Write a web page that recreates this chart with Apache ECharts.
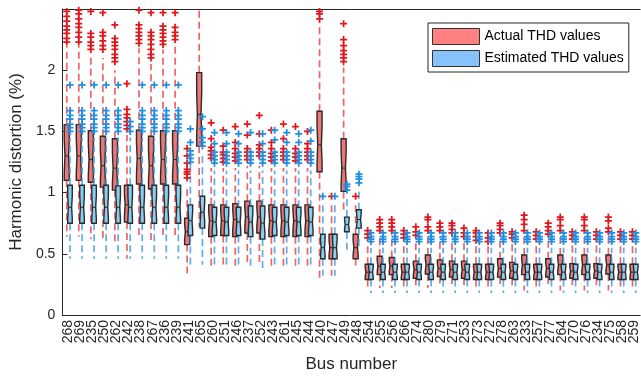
<!DOCTYPE html>
<html>
<head>
<meta charset="utf-8">
<title>THD boxplot</title>
<script src="https://cdn.jsdelivr.net/npm/echarts@6/dist/echarts.min.js"></script>
<style>
  html, body { margin: 0; padding: 0; background: #fff; }
  #chart { width: 641px; height: 378px; }
</style>
</head>
<body>
<div id="chart"></div>
<script>
// bus numbers along the x axis
var busNumbers = ['268', '269', '235', '250', '262', '242', '238', '267', '236', '239',
  '241', '265', '260', '251', '246', '237', '252', '243', '261', '245',
  '244', '240', '247', '249', '248', '254', '255', '256', '266', '274',
  '280', '279', '271', '253', '273', '272', '278', '263', '233', '257',
  '277', '264', '270', '276', '234', '275', '258', '259'];

var yTicks = [0, 0.5, 1, 1.5, 2];

// [lower whisker, q1, median, q3, upper whisker]
var actualBox = [
  [0.64, 1.10, 1.30, 1.555, 2.20], [0.64, 1.10, 1.30, 1.555, 2.20], [0.62, 1.085, 1.27, 1.505, 2.12],
  [0.60, 1.045, 1.22, 1.46, 2.10], [0.58, 1.02, 1.20, 1.44, 2.00], [0.46, 0.76, 0.90, 1.06, 1.47],
  [0.62, 1.07, 1.28, 1.51, 2.18], [0.60, 1.03, 1.22, 1.46, 2.05], [0.62, 1.07, 1.27, 1.505, 2.17],
  [0.63, 1.07, 1.27, 1.505, 2.20], [0.34, 0.575, 0.68, 0.79, 1.05], [0.72, 1.38, 1.64, 1.98, 2.60],
  [0.40, 0.64, 0.77, 0.90, 1.20], [0.40, 0.65, 0.77, 0.90, 1.20], [0.40, 0.64, 0.78, 0.91, 1.20],
  [0.40, 0.67, 0.80, 0.93, 1.22], [0.40, 0.67, 0.80, 0.93, 1.22], [0.40, 0.64, 0.77, 0.90, 1.20],
  [0.40, 0.64, 0.77, 0.90, 1.20], [0.40, 0.64, 0.77, 0.90, 1.20], [0.40, 0.64, 0.77, 0.90, 1.20],
  [0.30, 1.17, 1.39, 1.665, 2.40], [0.32, 0.46, 0.55, 0.66, 0.92], [0.85, 1.01, 1.20, 1.44, 2.02],
  [0.38, 0.46, 0.55, 0.66, 0.92], [0.20, 0.29, 0.35, 0.415, 0.58], [0.22, 0.33, 0.40, 0.48, 0.66],
  [0.22, 0.33, 0.40, 0.47, 0.66], [0.22, 0.29, 0.35, 0.415, 0.58], [0.22, 0.30, 0.37, 0.44, 0.62],
  [0.22, 0.335, 0.41, 0.49, 0.67], [0.24, 0.315, 0.38, 0.45, 0.64], [0.24, 0.31, 0.37, 0.44, 0.62],
  [0.22, 0.30, 0.37, 0.44, 0.60], [0.22, 0.29, 0.35, 0.415, 0.58], [0.22, 0.29, 0.35, 0.415, 0.57],
  [0.22, 0.31, 0.38, 0.46, 0.64], [0.22, 0.30, 0.36, 0.43, 0.60], [0.20, 0.33, 0.41, 0.49, 0.68],
  [0.22, 0.29, 0.35, 0.415, 0.58], [0.22, 0.31, 0.38, 0.46, 0.64], [0.20, 0.33, 0.41, 0.49, 0.67],
  [0.22, 0.30, 0.36, 0.42, 0.58], [0.20, 0.33, 0.41, 0.49, 0.67], [0.22, 0.30, 0.36, 0.42, 0.58],
  [0.20, 0.335, 0.41, 0.49, 0.66], [0.22, 0.29, 0.35, 0.415, 0.58], [0.22, 0.29, 0.35, 0.415, 0.58]
];

var estimatedBox = [
  [0.46, 0.75, 0.88, 1.06, 1.45], [0.46, 0.75, 0.88, 1.06, 1.45], [0.46, 0.75, 0.88, 1.06, 1.45],
  [0.46, 0.75, 0.88, 1.06, 1.45], [0.46, 0.75, 0.88, 1.055, 1.45], [0.46, 0.75, 0.88, 1.06, 1.45],
  [0.46, 0.75, 0.88, 1.06, 1.45], [0.46, 0.75, 0.88, 1.06, 1.45], [0.46, 0.75, 0.88, 1.06, 1.45],
  [0.46, 0.75, 0.88, 1.06, 1.45], [0.40, 0.65, 0.77, 0.90, 1.22], [0.41, 0.71, 0.84, 0.97, 1.32],
  [0.38, 0.65, 0.76, 0.88, 1.18], [0.38, 0.65, 0.76, 0.88, 1.18], [0.38, 0.65, 0.76, 0.88, 1.18],
  [0.38, 0.64, 0.76, 0.89, 1.18], [0.38, 0.62, 0.75, 0.89, 1.18], [0.38, 0.65, 0.76, 0.88, 1.18],
  [0.38, 0.65, 0.76, 0.88, 1.18], [0.38, 0.65, 0.76, 0.88, 1.18], [0.38, 0.65, 0.76, 0.88, 1.18],
  [0.32, 0.46, 0.55, 0.66, 0.93], [0.32, 0.46, 0.55, 0.66, 0.93], [0.52, 0.68, 0.74, 0.80, 0.97],
  [0.56, 0.71, 0.78, 0.86, 1.02], [0.18, 0.29, 0.35, 0.415, 0.55], [0.18, 0.29, 0.35, 0.415, 0.55],
  [0.18, 0.29, 0.35, 0.415, 0.55], [0.18, 0.29, 0.35, 0.415, 0.55], [0.18, 0.29, 0.35, 0.415, 0.55],
  [0.18, 0.29, 0.35, 0.415, 0.55], [0.18, 0.29, 0.35, 0.415, 0.55], [0.18, 0.29, 0.35, 0.415, 0.55],
  [0.18, 0.29, 0.35, 0.415, 0.55], [0.18, 0.29, 0.35, 0.415, 0.55], [0.18, 0.29, 0.35, 0.415, 0.55],
  [0.18, 0.29, 0.35, 0.415, 0.55], [0.18, 0.29, 0.35, 0.415, 0.55], [0.18, 0.29, 0.35, 0.415, 0.55],
  [0.18, 0.29, 0.35, 0.415, 0.55], [0.18, 0.29, 0.35, 0.415, 0.55], [0.18, 0.29, 0.35, 0.415, 0.55],
  [0.18, 0.29, 0.35, 0.415, 0.55], [0.18, 0.29, 0.35, 0.415, 0.55], [0.18, 0.29, 0.35, 0.415, 0.55],
  [0.18, 0.29, 0.35, 0.415, 0.55], [0.18, 0.29, 0.35, 0.415, 0.55], [0.18, 0.29, 0.35, 0.415, 0.55]
];

// outlier values per bus ('+' markers)
var actualOutliers = [
  [2.23, 2.26, 2.30, 2.33, 2.36, 2.40, 2.44, 2.48], [2.23, 2.27, 2.31, 2.35, 2.38, 2.42, 2.46, 2.49],
  [2.17, 2.20, 2.23, 2.27, 2.30, 2.48], [2.17, 2.20, 2.24, 2.28, 2.31, 2.47],
  [2.07, 2.10, 2.13, 2.17, 2.20, 2.23, 2.26, 2.37], [1.52, 1.55, 1.58, 1.61, 1.64, 1.68, 1.89],
  [2.22, 2.25, 2.28, 2.31, 2.34, 2.37, 2.49], [2.10, 2.13, 2.17, 2.21, 2.25, 2.28, 2.31, 2.47],
  [2.21, 2.24, 2.27, 2.30, 2.33, 2.36, 2.47], [2.25, 2.28, 2.31, 2.35, 2.47],
  [1.12, 1.15, 1.17, 1.19, 1.24, 1.30, 1.36], [],
  [1.28, 1.31, 1.34, 1.37, 1.44, 1.57], [1.25, 1.28, 1.31, 1.33, 1.38, 1.51],
  [1.26, 1.29, 1.32, 1.36, 1.41, 1.54], [1.27, 1.30, 1.33, 1.36, 1.47, 1.56],
  [1.30, 1.33, 1.36, 1.39, 1.48, 1.63], [1.26, 1.29, 1.32, 1.36, 1.41, 1.51],
  [1.27, 1.30, 1.33, 1.36, 1.44, 1.56], [1.26, 1.29, 1.32, 1.36, 1.54],
  [1.27, 1.30, 1.33, 1.36, 1.40, 1.50], [2.42, 2.46, 2.48],
  [0.97], [2.07, 2.10, 2.13, 2.16, 2.20, 2.25, 2.38],
  [0.97], [0.63, 0.66, 0.69],
  [0.69, 0.72, 0.75, 0.78], [0.69, 0.72, 0.75, 0.78],
  [0.63, 0.66, 0.69], [0.65, 0.68, 0.72],
  [0.69, 0.72, 0.78, 0.80], [0.69, 0.72, 0.75],
  [0.67, 0.70, 0.73, 0.75], [0.64, 0.67, 0.71],
  [0.61, 0.64, 0.67, 0.69], [0.60, 0.63, 0.67],
  [0.67, 0.70, 0.73, 0.75], [0.63, 0.66, 0.68],
  [0.69, 0.74, 0.78, 0.815], [0.62, 0.65, 0.68],
  [0.66, 0.69, 0.72, 0.75], [0.69, 0.73, 0.78, 0.80],
  [0.62, 0.65, 0.68], [0.69, 0.73, 0.78, 0.80],
  [0.62, 0.65, 0.68], [0.68, 0.71, 0.77, 0.80],
  [0.62, 0.65, 0.68], [0.62, 0.65, 0.68]
];

var estimatedOutliers = [
  [1.50, 1.53, 1.56, 1.60, 1.63, 1.67, 1.88], [1.50, 1.53, 1.56, 1.60, 1.63, 1.67, 1.88],
  [1.50, 1.53, 1.56, 1.60, 1.63, 1.67, 1.88], [1.50, 1.53, 1.56, 1.60, 1.63, 1.67, 1.88],
  [1.50, 1.53, 1.56, 1.60, 1.63, 1.67, 1.88], [1.50, 1.54, 1.58],
  [1.50, 1.53, 1.56, 1.60, 1.63, 1.67, 1.88], [1.50, 1.53, 1.56, 1.60, 1.63, 1.67, 1.88],
  [1.50, 1.53, 1.56, 1.60, 1.63, 1.67, 1.88], [1.50, 1.53, 1.56, 1.60, 1.63, 1.67, 1.88],
  [1.25, 1.28, 1.31, 1.34, 1.41, 1.52], [1.38, 1.41, 1.45, 1.52, 1.62],
  [1.24, 1.27, 1.30, 1.33, 1.40, 1.49], [1.24, 1.27, 1.30, 1.33, 1.40, 1.49],
  [1.24, 1.27, 1.30, 1.33, 1.40, 1.48], [1.24, 1.27, 1.30, 1.33, 1.49],
  [1.24, 1.27, 1.30, 1.33, 1.40, 1.48], [1.24, 1.27, 1.30, 1.33, 1.43, 1.51],
  [1.24, 1.27, 1.30, 1.33, 1.41, 1.49], [1.24, 1.27, 1.30, 1.33, 1.41, 1.48],
  [1.24, 1.27, 1.30, 1.33, 1.42, 1.51], [0.97],
  [0.97], [1.02, 1.05, 1.07],
  [1.08, 1.11, 1.13, 1.15], [0.60, 0.62, 0.64, 0.67],
  [0.60, 0.62, 0.64, 0.67], [0.60, 0.62, 0.64, 0.67], [0.60, 0.62, 0.64, 0.67],
  [0.60, 0.62, 0.64, 0.67], [0.60, 0.62, 0.64, 0.67], [0.60, 0.62, 0.64, 0.67],
  [0.60, 0.62, 0.64, 0.67], [0.60, 0.62, 0.64, 0.67], [0.60, 0.62, 0.64, 0.67],
  [0.60, 0.62, 0.64, 0.67], [0.60, 0.62, 0.64, 0.67], [0.60, 0.62, 0.64, 0.67],
  [0.60, 0.62, 0.64, 0.67], [0.60, 0.62, 0.64, 0.67], [0.60, 0.62, 0.64, 0.67],
  [0.60, 0.62, 0.64, 0.67], [0.60, 0.62, 0.64, 0.67], [0.60, 0.62, 0.64, 0.67],
  [0.60, 0.62, 0.64, 0.67], [0.60, 0.62, 0.64, 0.67], [0.60, 0.62, 0.64, 0.67],
  [0.60, 0.62, 0.64, 0.67]
];

var Y_MAX = 2.5;
var FONT = "'Liberation Sans', Arial, Helvetica, sans-serif";
var AXIS_COLOR = '#262626';
var PLUS = 'path://M3,0h2v3h3v2h-3v3h-2v-3h-3v-2h3z';

function boxRows(boxes) {
  return boxes.map(function (b, i) {
    return [i, b[0], b[1], b[2], b[3], b[4]];
  });
}

function outlierPoints(list) {
  var pts = [];
  list.forEach(function (vals, i) {
    vals.forEach(function (v) { pts.push([i, v]); });
  });
  return pts;
}

// notched box + dashed whiskers, shifted inside the category band
function boxRenderer(shift, widthFrac, fill, whiskerColor) {
  return function (params, api) {
    var i = api.value(0);
    var band = api.size([1, 0])[0];
    var x = api.coord([i, 0])[0] + shift * band;
    var half = band * widthFrac / 2;
    function py(v) { return api.coord([i, Math.min(v, Y_MAX)])[1]; }
    var low = py(api.value(1)), q1 = py(api.value(2)), med = py(api.value(3));
    var q3 = py(api.value(4)), high = py(api.value(5));
    var notch = Math.min((q1 - q3) * 0.3, q1 - med, med - q3);
    var inner = half * 0.72;
    var pts = [
      [x - half, q1], [x - half, med + notch], [x - inner, med], [x - half, med - notch], [x - half, q3],
      [x + half, q3], [x + half, med - notch], [x + inner, med], [x + half, med + notch], [x + half, q1]
    ];
    function dash() {
      return { stroke: whiskerColor, lineWidth: 1.7, lineDash: [7, 4], opacity: 0.85 };
    }
    return {
      type: 'group',
      children: [
        { type: 'line', shape: { x1: x, y1: q3, x2: x, y2: high }, style: dash() },
        { type: 'line', shape: { x1: x, y1: q1, x2: x, y2: low }, style: dash() },
        { type: 'polygon', shape: { points: pts }, style: { fill: fill, stroke: '#2b2b2b', lineWidth: 1.4 } },
        { type: 'line', shape: { x1: x - inner, y1: med, x2: x + inner, y2: med }, style: { stroke: '#2b2b2b', lineWidth: 1 } }
      ]
    };
  };
}

var chart = echarts.init(document.getElementById('chart'));

var option = {
  animation: false,
  backgroundColor: '#fff',
  textStyle: { fontFamily: FONT },
  grid: { left: 52, right: -2, top: 9, bottom: 61 },
  legend: {
    orient: 'vertical',
    left: 428,
    top: 23,
    padding: [5, 5, 5, 4],
    itemGap: 5,
    itemWidth: 47,
    itemHeight: 16,
    icon: 'rect',
    selectedMode: false,
    backgroundColor: '#fff',
    borderColor: AXIS_COLOR,
    borderWidth: 1,
    borderRadius: 0,
    textStyle: { fontSize: 14, color: '#000', fontFamily: FONT },
    data: [
      { name: 'Actual THD values', itemStyle: { color: '#ff8080', borderColor: '#333', borderWidth: 1 } },
      { name: 'Estimated THD values', itemStyle: { color: '#88c2fb', borderColor: '#333', borderWidth: 1 } }
    ]
  },
  xAxis: [
    {
      type: 'category',
      data: busNumbers,
      position: 'bottom',
      axisLine: { lineStyle: { color: AXIS_COLOR } },
      axisTick: { inside: true, alignWithLabel: true, length: 4, lineStyle: { color: AXIS_COLOR } },
      axisLabel: { interval: 0, rotate: 90, fontSize: 14, margin: 5, color: AXIS_COLOR, fontFamily: FONT },
      name: 'Bus number',
      nameLocation: 'middle',
      nameGap: 41,
      nameTextStyle: { fontSize: 17, color: AXIS_COLOR, fontFamily: FONT }
    },
    {
      type: 'category',
      data: busNumbers,
      position: 'top',
      axisLine: { lineStyle: { color: AXIS_COLOR } },
      axisTick: { inside: true, alignWithLabel: true, length: 4, lineStyle: { color: AXIS_COLOR } },
      axisLabel: { show: false }
    }
  ],
  yAxis: {
    type: 'value',
    min: 0,
    max: Y_MAX,
    interval: 0.5,
    axisLine: { show: true, lineStyle: { color: AXIS_COLOR } },
    axisTick: { show: true, inside: true, length: 5, lineStyle: { color: AXIS_COLOR } },
    splitLine: { show: false },
    axisLabel: {
      fontSize: 14,
      margin: 7,
      color: AXIS_COLOR,
      fontFamily: FONT,
      formatter: function (v) { return yTicks.indexOf(v) >= 0 ? String(v) : ''; }
    },
    name: 'Harmonic distortion (%)',
    nameLocation: 'middle',
    nameGap: 23,
    nameTextStyle: { fontSize: 17, color: AXIS_COLOR, fontFamily: FONT }
  },
  series: [
    {
      name: 'Actual THD values',
      type: 'custom',
      renderItem: boxRenderer(-0.134, 0.42, '#ee7676', '#ef4848'),
      itemStyle: { color: '#ff8080' },
      encode: { x: 0, y: [1, 2, 3, 4, 5] },
      data: boxRows(actualBox),
      z: 2
    },
    {
      name: 'Estimated THD values',
      type: 'custom',
      renderItem: boxRenderer(0.134, 0.38, '#86cff2', '#3f9fe8'),
      itemStyle: { color: '#88c2fb' },
      encode: { x: 0, y: [1, 2, 3, 4, 5] },
      data: boxRows(estimatedBox),
      z: 3
    },
    {
      name: 'Actual THD values',
      type: 'scatter',
      symbol: PLUS,
      symbolSize: 7,
      symbolOffset: [-1.65, 0],
      itemStyle: { color: '#e3161b', opacity: 1 },
      data: outlierPoints(actualOutliers),
      z: 4
    },
    {
      name: 'Estimated THD values',
      type: 'scatter',
      symbol: PLUS,
      symbolSize: 7,
      symbolOffset: [1.65, 0],
      itemStyle: { color: '#1f8fe3', opacity: 1 },
      data: outlierPoints(estimatedOutliers),
      z: 5
    }
  ]
};

chart.setOption(option);
</script>
</body>
</html>
